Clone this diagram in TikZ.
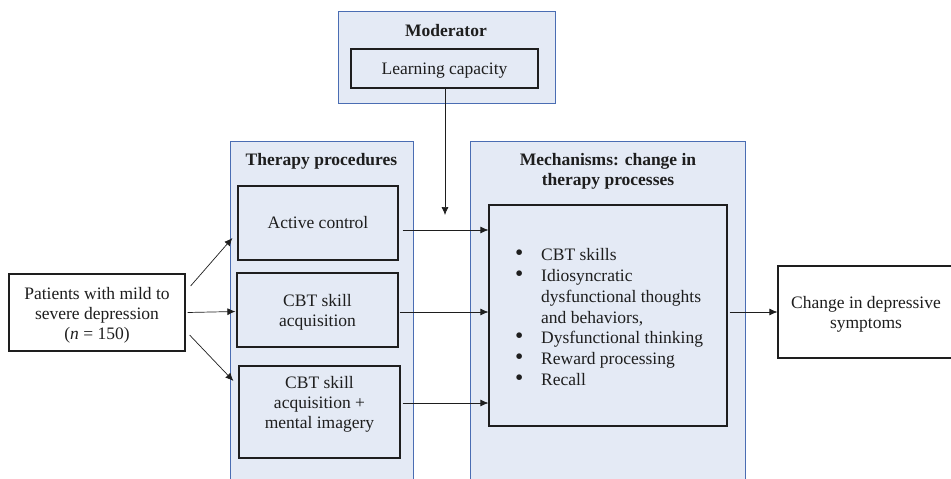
\documentclass[tikz,border=0pt]{standalone}
\usepackage{fontspec}
\setmainfont{Liberation Serif}
\usetikzlibrary{arrows.meta,calc}
\definecolor{panelfill}{HTML}{E4EAF5}
\definecolor{panelline}{HTML}{4A6DB3}
\definecolor{inkc}{HTML}{1E1E1E}
\newcommand{\bigbul}{\hspace*{3pt}\raisebox{0.5pt}{\scalebox{1.35}{\textbullet}}}
\newcommand{\shiftt}[2]{\raisebox{#1}[\height][\depth]{\begin{tabular}{@{}c@{}}#2\end{tabular}}}
\begin{document}
\begin{tikzpicture}[x=1pt,y=-1pt,
  every node/.style={text=inkc,font=\fontsize{17.5}{20}\selectfont},
  panel/.style={draw=panelline,fill=panelfill,line width=1pt,inner sep=0pt},
  ibox/.style={draw=inkc,line width=1.2pt,align=center,inner sep=0pt},
  wbox/.style={ibox,fill=white},
  bbox/.style={ibox,fill=panelfill},
  ttl/.style={font=\fontsize{17.5}{20}\selectfont\bfseries,align=center},
  arr/.style={draw=inkc,line width=0.7pt,-{Latex[length=8pt,width=7pt]}}]
\useasboundingbox (0,0) rectangle (951,479);
\begin{scope}
\clip (0,0) rectangle (951,479);
% panels
\node[panel,minimum width=217pt,minimum height=92pt] (modp) at (446.5,57) {};
\node[panel,minimum width=183pt,minimum height=349pt] (therp) at (321.5,315.5) {};
\node[panel,minimum width=275pt,minimum height=349pt] (mechp) at (607.5,315.5) {};
\node[ttl] (modt) at (446,31) {Moderator};
\node[ttl] (thert) at (321.5,161.5) {Therapy procedures};
\node[ttl] (mecht) at (608,171) {Mechanisms: change in\\therapy processes};
% boxes
\node[bbox,minimum width=187pt,minimum height=39pt] (learn) at (444.5,68.5) {\shiftt{-2pt}{Learning capacity}};
\node[bbox,minimum width=160pt,minimum height=74pt] (act) at (318,223) {\shiftt{-1pt}{Active control}};
\node[bbox,minimum width=161pt,minimum height=74pt] (cbt) at (317.5,310) {\shiftt{-2.5pt}{CBT skill\\acquisition}};
\node[bbox,minimum width=161pt,minimum height=92pt] (img) at (319.5,412) {\shiftt{7.5pt}{CBT skill\\acquisition +\\mental imagery}};
\node[wbox,minimum width=176pt,minimum height=77pt] (pat) at (97,312.5) {\shiftt{-2.5pt}{Patients with mild to\\severe depression\\(\textit{n} = 150)}};
\node[bbox,minimum width=238pt,minimum height=221pt] (inner) at (608,315.5) {};
\node[anchor=north west,inner sep=0pt,font=\fontsize{17.5}{20.8}\selectfont] (list) at (512,246) {%
\begin{tabular}{@{}p{29pt}@{}p{185pt}@{}}
\bigbul & CBT skills\\
\bigbul & Idiosyncratic\newline dysfunctional thoughts\newline and behaviors,\\
\bigbul & Dysfunctional thinking\\
\bigbul & Reward processing\\
\bigbul & Recall
\end{tabular}};
\node[wbox,minimum width=176pt,minimum height=92pt] (chg) at (866,312) {\shiftt{-2.5pt}{Change in depressive\\symptoms}};
\coordinate (modend) at (445,215);
% connectors
\draw[arr] (learn.south -| modend) -- (modend);
\draw[arr] ([xshift=5pt,yshift=26.5pt]pat.east) -- ([xshift=-5pt,yshift=-15pt]act.west);
\draw[arr] ([xshift=2pt]pat.east) -- ([xshift=-1pt,yshift=-1.5pt]cbt.west);
\draw[arr] ([xshift=4pt,yshift=-22.5pt]pat.east) -- ([xshift=-5pt,yshift=31pt]img.west);
\draw[arr] ([xshift=4pt,yshift=-7pt]act.east) -- ([yshift=-7pt]act.east -| inner.west);
\draw[arr] ([xshift=1pt,yshift=-2pt]cbt.east) -- ([yshift=-2pt]cbt.east -| inner.west);
\draw[arr] ([xshift=2pt,yshift=9pt]img.east) -- ([yshift=9pt]img.east -| inner.west);
\draw[arr] ([xshift=2pt,yshift=3.5pt]inner.east) -- ([yshift=3.5pt]inner.east -| chg.west);
\end{scope}
\end{tikzpicture}
\end{document}
